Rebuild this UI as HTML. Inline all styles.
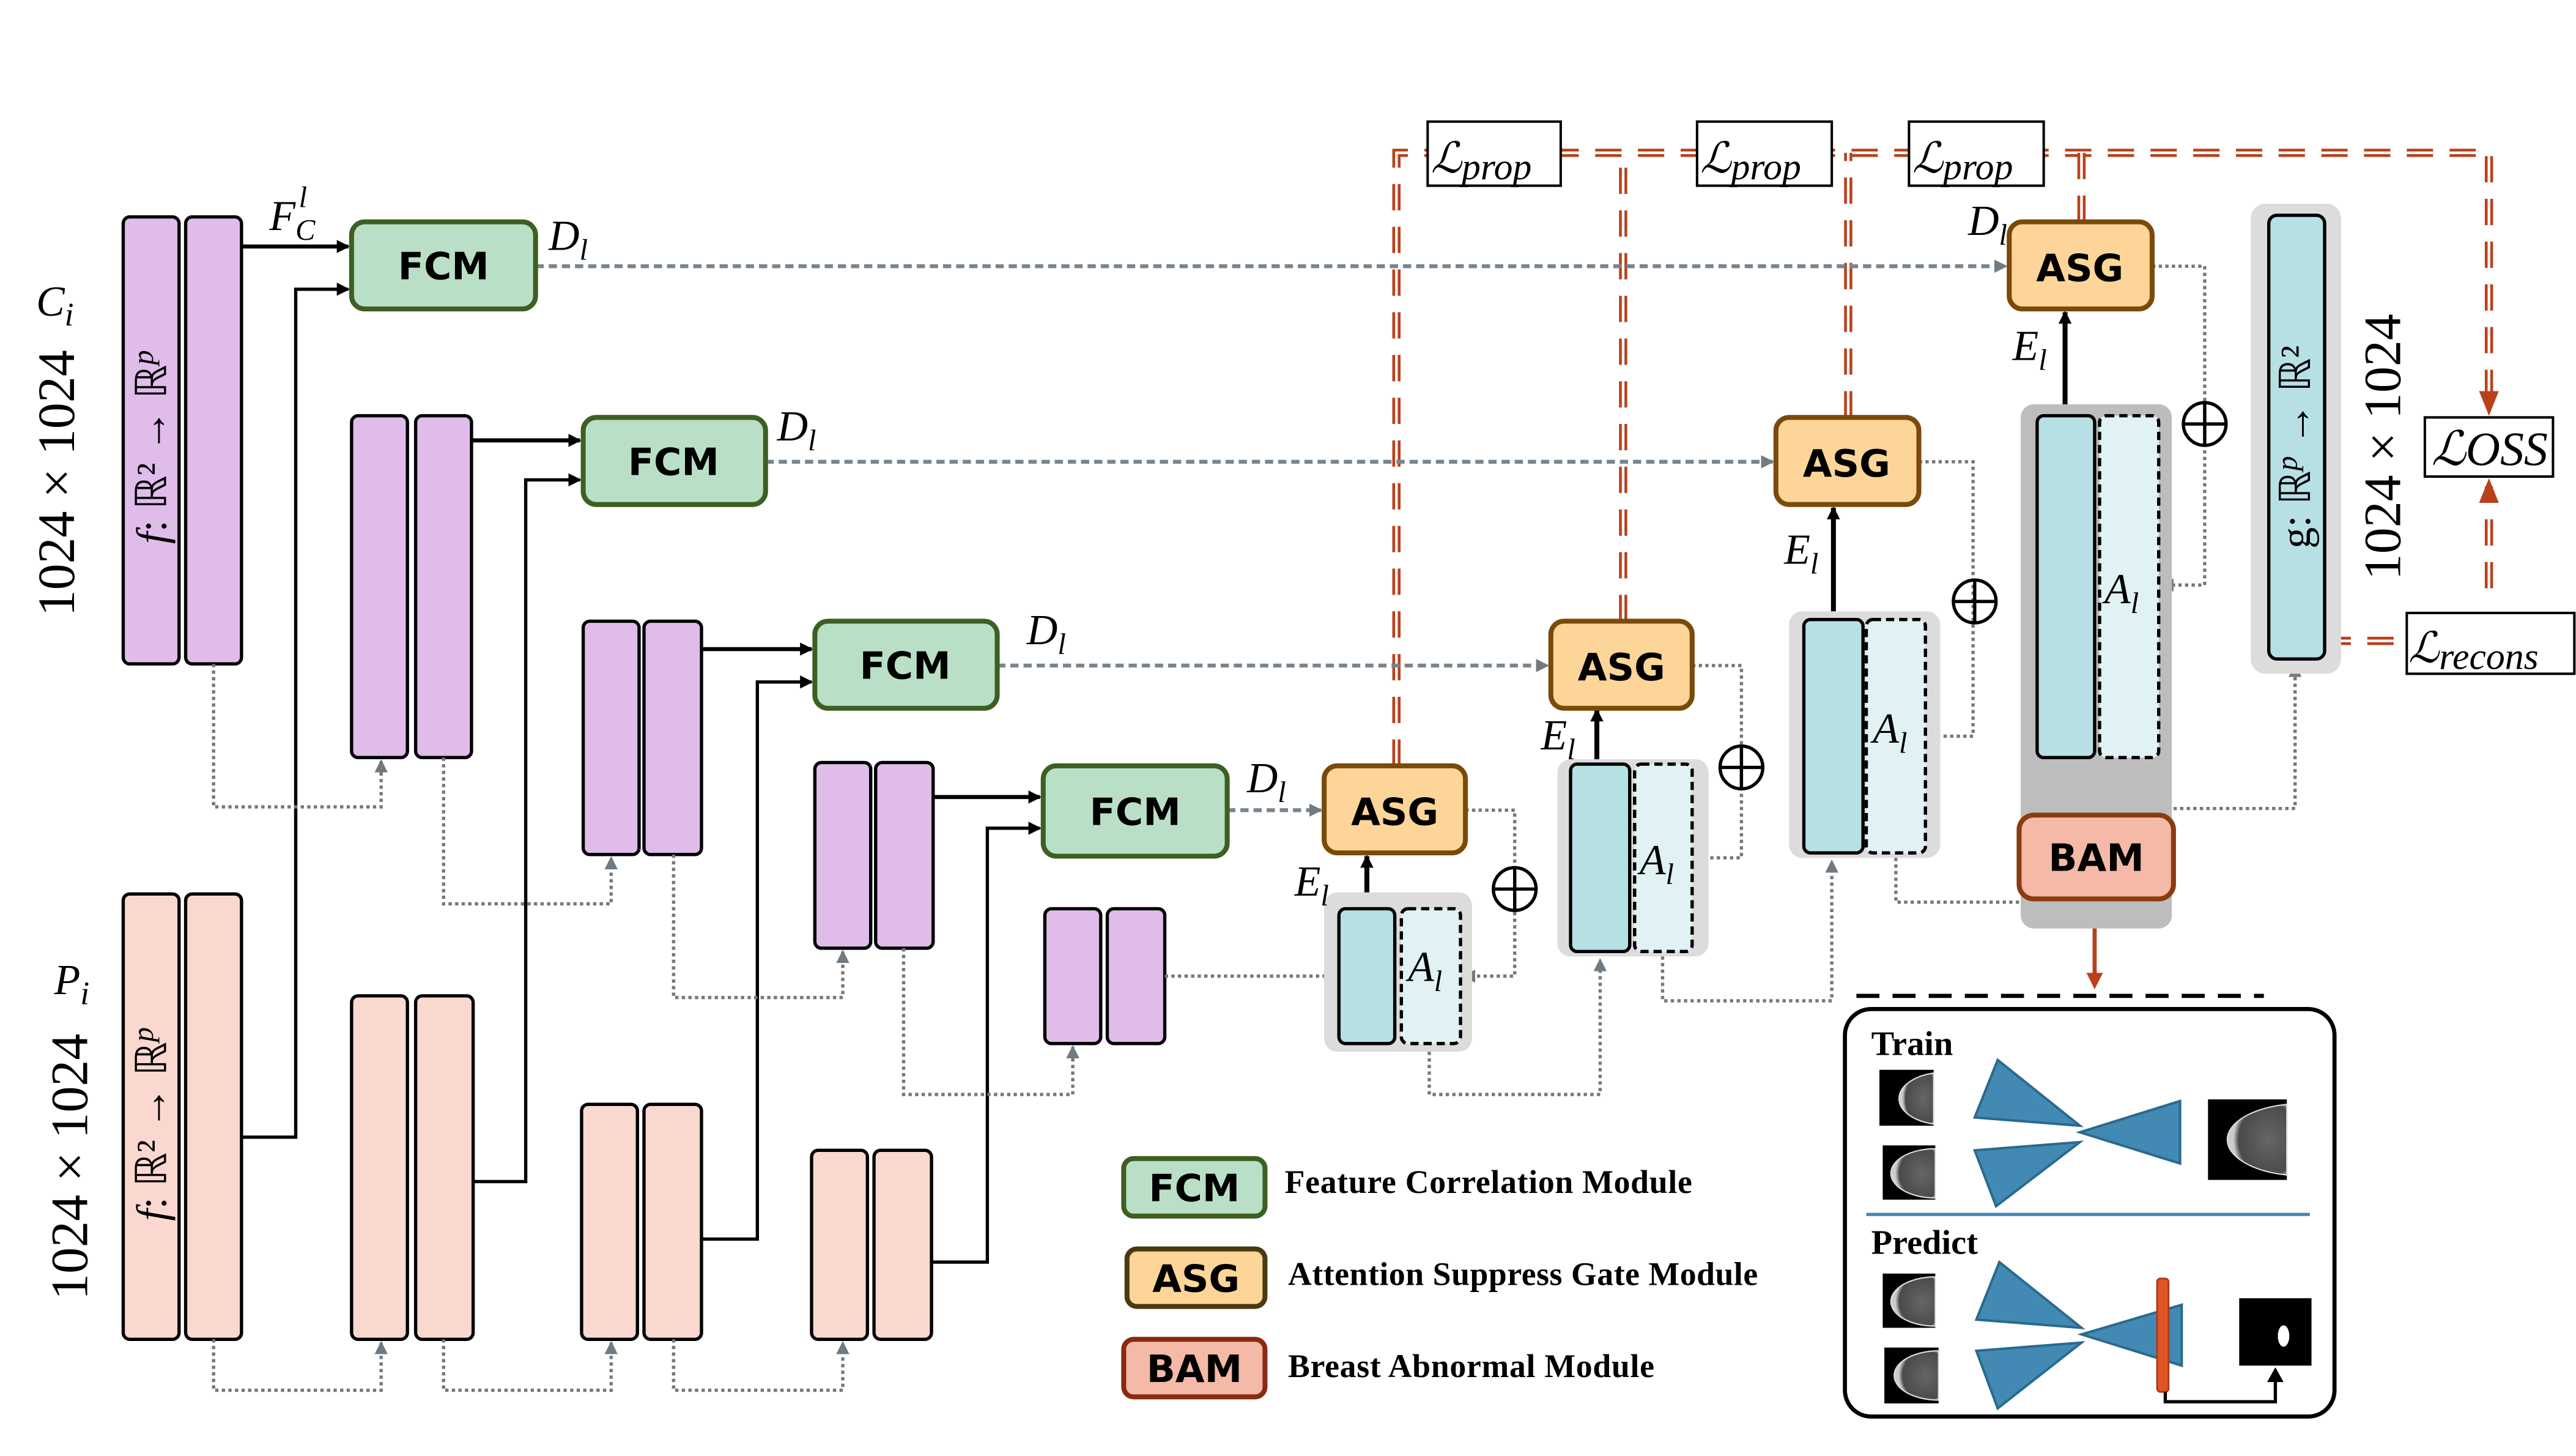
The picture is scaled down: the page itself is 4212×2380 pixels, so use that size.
<!DOCTYPE html>
<html><head><meta charset="utf-8"><style>html,body{margin:0;padding:0;background:#fff}svg{display:block}</style></head><body>
<svg width="4212" height="2380" viewBox="0 0 1568 886" preserveAspectRatio="none" xmlns="http://www.w3.org/2000/svg">
<defs>
<marker id="ab" markerWidth="8" markerHeight="8" refX="7" refY="4" orient="auto" markerUnits="userSpaceOnUse"><path d="M0,0 L8,4 L0,8z" fill="#000"/></marker>
<marker id="ag" markerWidth="8" markerHeight="8" refX="7" refY="4" orient="auto" markerUnits="userSpaceOnUse"><path d="M0,0 L8,4 L0,8z" fill="#6f7a82"/></marker>
<radialGradient id="mg" cx="0.7" cy="0.5" r="0.6"><stop offset="0" stop-color="#666"/><stop offset="0.85" stop-color="#4a4a4a"/><stop offset="1" stop-color="#ccc"/></radialGradient>
</defs>
<style>
.pu{fill:#e0bcea;stroke:#000;stroke-width:2}
.pk{fill:#fbd8cf;stroke:#000;stroke-width:2}
.fcm{fill:#b9e0c6;stroke:#3d5f22;stroke-width:3}
.asg{fill:#fdd598;stroke:#7a4a0a;stroke-width:3}
.bl{fill:#b7e0e5;stroke:#000;stroke-width:2}
.ld{fill:#e1f2f4;stroke:#000;stroke-width:2;stroke-dasharray:5,3}
.bt{font-family:"DejaVu Sans","Liberation Sans",sans-serif;font-weight:bold;font-size:23px;text-anchor:middle}
.it{font-family:"Liberation Serif",serif;font-style:italic;font-size:26px}
.gd{stroke:#778590;stroke-width:2.4;stroke-dasharray:5,3;fill:none}
.dt{stroke:#777;stroke-width:2;stroke-dasharray:2,2;fill:none}
.k{stroke:#000;stroke-width:2.5;fill:none}
.r1{stroke:#b9401b;stroke-width:5;stroke-dasharray:16,10;fill:none}
.r2{stroke:#fff;stroke-width:1.6;stroke-dasharray:16,10;fill:none}
.lg{font-family:"Liberation Serif",serif;font-weight:bold;font-size:20px}
.sr{font-family:"Liberation Serif",serif;font-size:32px}
</style>
<g>
<path class="r1" d="M850,466 V93 H1515 V248"/><path class="r2" d="M850,466 V93 H1515 V248"/>
<path class="r1" d="M988,378 V93"/><path class="r2" d="M988,378 V93"/>
<path class="r1" d="M1125,254 V93"/><path class="r2" d="M1125,254 V93"/>
<path class="r1" d="M1267,135 V93"/><path class="r2" d="M1267,135 V93"/>
<path class="r1" d="M1515,358 V296"/><path class="r2" d="M1515,358 V296"/>
<path class="r1" d="M1415,390 H1465"/><path class="r2" d="M1415,390 H1465"/>
<path d="M1509,238 L1515,253 L1521,238z" fill="#b9401b"/>
<path d="M1509,306 L1515,291 L1521,306z" fill="#b9401b"/>
</g>
<g fill="#fff" stroke="#000" stroke-width="1.5">
<rect x="869" y="74" width="81" height="39"/><rect x="1033" y="74" width="82" height="39"/><rect x="1162" y="74" width="82" height="39"/>
<rect x="1476" y="254" width="78" height="36"/><rect x="1465" y="373" width="102" height="37"/>
</g>
<g class="it" font-size="28">
<text x="871" y="105">ℒ<tspan font-size="23" dy="4">prop</tspan></text>
<text x="1035" y="105">ℒ<tspan font-size="23" dy="4">prop</tspan></text>
<text x="1164" y="105">ℒ<tspan font-size="23" dy="4">prop</tspan></text>
<text x="1480" y="283" font-size="29">ℒOSS</text>
<text x="1466" y="403">ℒ<tspan font-size="23" dy="4">recons</tspan></text>
</g>
<rect class="pu" x="75" y="132" width="34" height="272" rx="4"/><rect class="pu" x="113" y="132" width="34" height="272" rx="4"/>
<rect class="pu" x="214" y="253" width="34" height="208" rx="4"/><rect class="pu" x="253" y="253" width="34" height="208" rx="4"/>
<rect class="pu" x="355" y="378" width="34" height="142" rx="4"/><rect class="pu" x="392" y="378" width="35" height="142" rx="4"/>
<rect class="pu" x="496" y="464" width="34" height="113" rx="4"/><rect class="pu" x="533" y="464" width="35" height="113" rx="4"/>
<rect class="pu" x="636" y="553" width="34" height="82" rx="4"/><rect class="pu" x="674" y="553" width="35" height="82" rx="4"/>
<rect class="pk" x="75" y="544" width="34" height="271" rx="4"/><rect class="pk" x="113" y="544" width="34" height="271" rx="4"/>
<rect class="pk" x="214" y="606" width="34" height="209" rx="4"/><rect class="pk" x="253" y="606" width="35" height="209" rx="4"/>
<rect class="pk" x="354" y="672" width="34" height="143" rx="4"/><rect class="pk" x="392" y="672" width="35" height="143" rx="4"/>
<rect class="pk" x="494" y="700" width="34" height="115" rx="4"/><rect class="pk" x="532" y="700" width="35" height="115" rx="4"/>
<text class="it" x="22" y="192" font-size="30">C<tspan font-size="20" dy="6">i</tspan></text>
<text class="it" x="33" y="605" font-size="30">P<tspan font-size="20" dy="6">i</tspan></text>
<text class="sr" transform="translate(45,294) rotate(-90)" text-anchor="middle">1024 × 1024</text>
<text class="sr" transform="translate(53,710) rotate(-90)" text-anchor="middle">1024 × 1024</text>
<text class="sr" transform="translate(1461,272) rotate(-90)" text-anchor="middle">1024 × 1024</text>
<text transform="translate(101,272) rotate(-90)" text-anchor="middle" font-family="Liberation Serif,serif" font-size="26"><tspan font-style="italic">f</tspan>: ℝ² → ℝ<tspan font-style="italic" dy="-8" font-size="18">p</tspan></text>
<text transform="translate(101,684) rotate(-90)" text-anchor="middle" font-family="Liberation Serif,serif" font-size="26"><tspan font-style="italic">f</tspan>: ℝ² → ℝ<tspan font-style="italic" dy="-8" font-size="18">p</tspan></text>
<g class="k">
<path d="M147,150 H212" marker-end="url(#ab)"/><path d="M287,268 H353" marker-end="url(#ab)"/>
<path d="M427,395 H494" marker-end="url(#ab)"/><path d="M568,485 H633" marker-end="url(#ab)"/>
<path d="M147,692 H180 V176 H212" marker-end="url(#ab)" stroke-width="2"/>
<path d="M288,719 H320 V292 H353" marker-end="url(#ab)" stroke-width="2"/>
<path d="M427,754 H461 V415 H494" marker-end="url(#ab)" stroke-width="2"/>
<path d="M567,768 H601 V504 H633" marker-end="url(#ab)" stroke-width="2"/>
<path d="M832,553 V521" marker-end="url(#ab)" stroke-width="3"/><path d="M972,465 V432" marker-end="url(#ab)" stroke-width="3"/>
<path d="M1116,377 V309" marker-end="url(#ab)" stroke-width="3"/><path d="M1257,253 V190" marker-end="url(#ab)" stroke-width="3"/>
</g>
<g class="dt">
<path d="M130,404 V491 H232 V463" marker-end="url(#ag)"/><path d="M270,461 V550 H372 V522" marker-end="url(#ag)"/>
<path d="M410,520 V607 H513 V579" marker-end="url(#ag)"/><path d="M550,577 V666 H653 V637" marker-end="url(#ag)"/>
<path d="M130,815 V846 H232 V817" marker-end="url(#ag)"/><path d="M270,815 V846 H372 V817" marker-end="url(#ag)"/>
<path d="M410,815 V846 H513 V817" marker-end="url(#ag)"/>
<path d="M709,594 H813" marker-end="url(#ag)"/>
<path d="M892,493 H922 V594 H891" marker-end="url(#ag)"/>
<path d="M1030,405 H1060 V522 H1032" marker-end="url(#ag)"/>
<path d="M1168,281 H1201 V448 H1174" marker-end="url(#ag)"/>
<path d="M1310,162 H1342 V356 H1316" marker-end="url(#ag)"/>
<path d="M870,640 V666 H974 V584" marker-end="url(#ag)"/>
<path d="M1012,582 V609 H1115 V524" marker-end="url(#ag)"/>
<path d="M1154,522 V549 H1230"/>
<path d="M1323,492 H1397 V405" marker-end="url(#ag)"/>
</g>
<g class="gd">
<path d="M326,162 H1221" marker-end="url(#ag)"/><path d="M466,281 H1079" marker-end="url(#ag)"/>
<path d="M607,405 H942" marker-end="url(#ag)"/><path d="M747,493 H804" marker-end="url(#ag)"/>
</g>
<rect x="806" y="543" width="90" height="97" rx="8" fill="#dcdcdc"/>
<rect class="bl" x="815" y="553" width="34" height="82" rx="4"/><rect class="ld" x="853" y="553" width="36" height="82" rx="4"/>
<rect x="948" y="462" width="92" height="120" rx="8" fill="#dcdcdc"/>
<rect class="bl" x="956" y="465" width="36" height="114" rx="4"/><rect class="ld" x="995" y="465" width="35" height="114" rx="4"/>
<rect x="1089" y="372" width="92" height="150" rx="8" fill="#dcdcdc"/>
<rect class="bl" x="1098" y="377" width="36" height="142" rx="4"/><rect class="ld" x="1136" y="377" width="36" height="142" rx="4"/>
<rect x="1230" y="246" width="92" height="319" rx="8" fill="#bdbdbd"/>
<rect class="bl" x="1240" y="253" width="35" height="208" rx="4"/><rect class="ld" x="1278" y="253" width="36" height="208" rx="4"/>
<rect x="1229" y="496" width="94" height="51" rx="9" fill="#f4b9a7" stroke="#8a3c10" stroke-width="3"/>
<text class="bt" x="1276" y="530">BAM</text>
<rect x="1370" y="124" width="55" height="286" rx="9" fill="#dcdcdc"/>
<rect class="bl" x="1381" y="131" width="34" height="270" rx="5" stroke-width="2.5"/>
<text transform="translate(1406,272) rotate(-90)" text-anchor="middle" font-family="Liberation Serif,serif" font-size="26">g: ℝ<tspan font-style="italic" dy="-8" font-size="18">p</tspan><tspan dy="8"> → ℝ²</tspan></text>
<g class="it" font-size="28"><text x="857" y="597">A<tspan font-size="18" dy="6">l</tspan></text><text x="998" y="532">A<tspan font-size="18" dy="6">l</tspan></text>
<text x="1140" y="452">A<tspan font-size="18" dy="6">l</tspan></text><text x="1281" y="367">A<tspan font-size="18" dy="6">l</tspan></text></g>
<g fill="none" stroke="#000" stroke-width="2">
<circle cx="922" cy="541" r="13"/><path d="M909,541 H935 M922,528 V554"/>
<circle cx="1060" cy="467" r="13"/><path d="M1047,467 H1073 M1060,454 V480"/>
<circle cx="1202" cy="366" r="13"/><path d="M1189,366 H1215 M1202,353 V379"/>
<circle cx="1342" cy="258" r="13"/><path d="M1329,258 H1355 M1342,245 V271"/>
</g>
<rect class="fcm" x="214" y="135" width="112" height="53" rx="8"/><text class="bt" x="270" y="170">FCM</text>
<rect class="fcm" x="355" y="254" width="111" height="53" rx="8"/><text class="bt" x="410" y="289">FCM</text>
<rect class="fcm" x="496" y="378" width="111" height="53" rx="8"/><text class="bt" x="551" y="413">FCM</text>
<rect class="fcm" x="635" y="466" width="112" height="55" rx="8"/><text class="bt" x="691" y="502">FCM</text>
<rect class="asg" x="1223" y="135" width="87" height="53" rx="8"/><text class="bt" x="1266" y="171">ASG</text>
<rect class="asg" x="1081" y="254" width="87" height="53" rx="8"/><text class="bt" x="1124" y="290">ASG</text>
<rect class="asg" x="944" y="378" width="86" height="53" rx="8"/><text class="bt" x="987" y="414">ASG</text>
<rect class="asg" x="806" y="466" width="86" height="53" rx="8"/><text class="bt" x="849" y="502">ASG</text>
<g class="it" font-size="28">
<text x="164" y="140">F<tspan font-size="18" dy="6">C</tspan><tspan font-size="18" dx="-10" dy="-20">l</tspan></text>
<text x="334" y="152">D<tspan font-size="18" dy="6">l</tspan></text>
<text x="473" y="268">D<tspan font-size="18" dy="6">l</tspan></text>
<text x="625" y="392">D<tspan font-size="18" dy="6">l</tspan></text>
<text x="759" y="482">D<tspan font-size="18" dy="6">l</tspan></text>
<text x="1198" y="143">D<tspan font-size="18" dy="6">l</tspan></text>
<text x="788" y="545">E<tspan font-size="18" dy="6">l</tspan></text>
<text x="938" y="456">E<tspan font-size="18" dy="6">l</tspan></text>
<text x="1086" y="343">E<tspan font-size="18" dy="6">l</tspan></text>
<text x="1225" y="219">E<tspan font-size="18" dy="6">l</tspan></text>
</g>
<path d="M1275,565 V594" stroke="#b9401b" stroke-width="2.5"/><path d="M1270,592 L1275,602 L1280,592z" fill="#b9401b"/>
<path d="M1130,606 H1378" stroke="#000" stroke-width="2.5" stroke-dasharray="14,8"/>
<rect x="1123" y="614" width="298" height="248" rx="16" fill="#fff" stroke="#000" stroke-width="2.5"/>
<text x="1139" y="642" font-family="Liberation Serif,serif" font-weight="bold" font-size="21">Train</text>
<text x="1139" y="763" font-family="Liberation Serif,serif" font-weight="bold" font-size="21">Predict</text>
<path d="M1136,739 H1406" stroke="#3f88b2" stroke-width="2"/>
<g fill="#000">
<rect x="1144" y="651" width="33" height="34"/><rect x="1146" y="697" width="32" height="33"/>
<rect x="1344" y="669" width="48" height="49"/>
<rect x="1146" y="775" width="32" height="33"/><rect x="1147" y="820" width="33" height="34"/>
<rect x="1363" y="790" width="44" height="41"/>
</g>
<g fill="url(#mg)" stroke="#ddd" stroke-width="0.8">
<path d="M1177,653 A28,16 0 0 0 1177,684 Z"/>
<path d="M1178,699 A27,15 0 0 0 1178,729 Z"/>
<path d="M1392,672 A46,22 0 0 0 1392,715 Z"/>
<path d="M1178,777 A27,15 0 0 0 1178,807 Z"/>
<path d="M1180,822 A27,15 0 0 0 1180,852 Z"/>
</g>
<ellipse cx="1390" cy="813" rx="3.5" ry="6.5" fill="#fff"/>
<g fill="#4289b3" stroke="#2a6a8e" stroke-width="1.5">
<path d="M1216,645 L1202,680 L1266,685Z"/><path d="M1202,700 L1215,734 L1266,695Z"/><path d="M1266,689 L1327,670 L1327,708Z"/>
<path d="M1217,768 L1203,803 L1267,808Z"/><path d="M1203,822 L1216,857 L1267,817Z"/><path d="M1267,812 L1328,794 L1328,831Z"/>
</g>
<rect x="1313" y="778" width="7" height="69" rx="2" fill="#e05426" stroke="#a63a14" stroke-width="1"/>
<path d="M1318,847 V853 H1385 V840" fill="none" stroke="#000" stroke-width="2"/>
<path d="M1380,841 L1385,832 L1390,841z" fill="#000"/>
<rect x="684" y="705" width="86" height="35" rx="6" fill="#b9e0c6" stroke="#3d5f22" stroke-width="3"/><text class="bt" x="727" y="731" font-size="21">FCM</text>
<rect x="686" y="760" width="84" height="35" rx="6" fill="#fdd598" stroke="#4a3a10" stroke-width="3"/><text class="bt" x="728" y="786" font-size="21">ASG</text>
<rect x="684" y="815" width="86" height="35" rx="6" fill="#f4b9a7" stroke="#8a2a10" stroke-width="3"/><text class="bt" x="727" y="841" font-size="21">BAM</text>
<text class="lg" x="782" y="726" textLength="248">Feature Correlation Module</text>
<text class="lg" x="784" y="782" textLength="286">Attention Suppress Gate Module</text>
<text class="lg" x="784" y="838" textLength="223">Breast Abnormal Module</text>
</svg>
</body></html>
